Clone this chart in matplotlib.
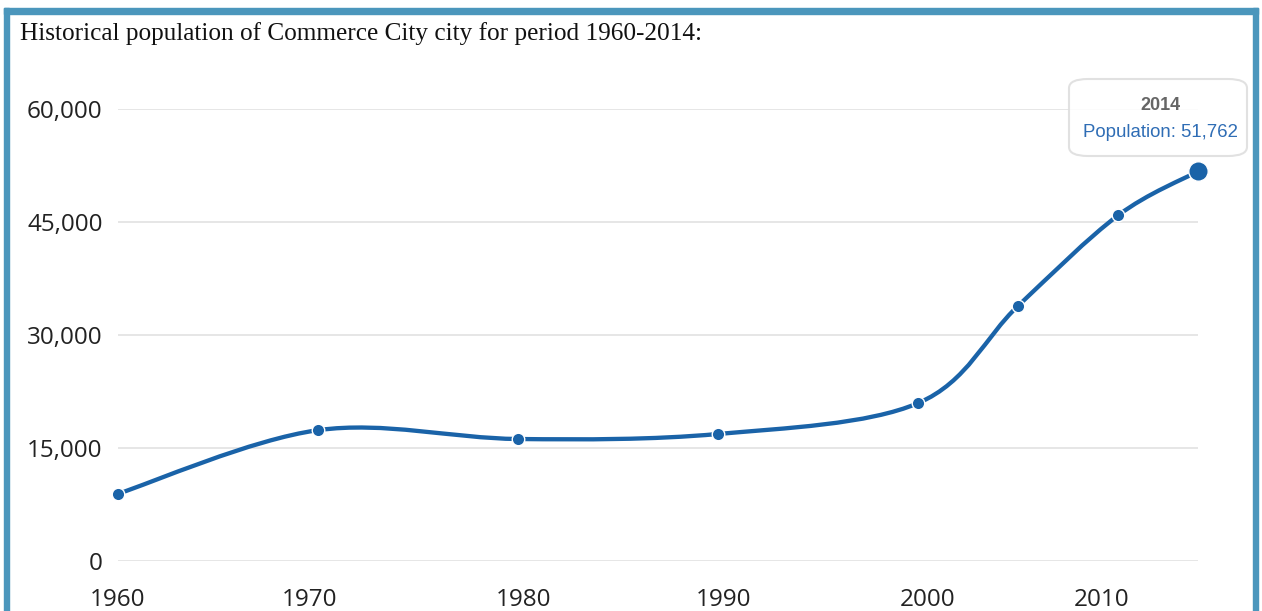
import matplotlib.pyplot as plt
import numpy as np
from matplotlib.path import Path
from matplotlib.patches import PathPatch, FancyBboxPatch, Rectangle
from matplotlib.ticker import FuncFormatter

# data
years = [1960, 1970, 1980, 1990, 2000, 2005, 2010, 2014]
population = [8970, 17407, 16234, 16900, 20991, 33900, 45913, 51762]

y_ticks = [0, 15000, 30000, 45000, 60000]
x_tick_labels = ['1960', '1970', '1980', '1990', '2000', '2010']
# the original labels sit slightly off the decade marks
x_tick_pos = [1960, 1969.6, 1980.3, 1990.3, 2000.5, 2009.2]

title = 'Historical population of Commerce City city for period 1960-2014:'
line_color = '#1a63a8'


def smooth_path(xs, ys, k=1 / 6):
    """Catmull-Rom style cubic bezier path through the points"""
    pts = np.column_stack([xs, ys]).astype(float)
    n = len(pts)
    verts = [pts[0]]
    codes = [Path.MOVETO]
    for i in range(n - 1):
        p_prev = pts[max(i - 1, 0)]
        p_next2 = pts[min(i + 2, n - 1)]
        c1 = pts[i] + (pts[i + 1] - p_prev) * k
        c2 = pts[i + 1] - (p_next2 - pts[i]) * k
        verts += [c1, c2, pts[i + 1]]
        codes += [Path.CURVE4] * 3
    return Path(verts, codes)


W, H = 1262, 611
fig = plt.figure(figsize=(W / 100, H / 100), dpi=100)

# blue frame around the figure (no bottom edge, it is cropped)
frame_color = '#4b96bc'
fig.patches.append(Rectangle((4 / W, 0), 5 / W, (H - 8) / H, transform=fig.transFigure,
                             color=frame_color, zorder=0))
fig.patches.append(Rectangle((1253 / W, 0), 5 / W, (H - 8) / H, transform=fig.transFigure,
                             color=frame_color, zorder=0))
fig.patches.append(Rectangle((4 / W, (H - 14) / H), 1254 / W, 6 / H, transform=fig.transFigure,
                             color=frame_color, zorder=0))

fig.text(20 / W, 1 - 34 / H, title, family='Liberation Serif', fontsize=18.2,
         va='center', ha='left', color='#111111')

ax = fig.add_axes([118 / W, (H - 561.3) / H, 1080 / W, 452 / H])
ax.set_xlim(1960, 2014)
ax.set_ylim(0, 60000)
for s in ax.spines.values():
    s.set_visible(False)
ax.set_yticks(y_ticks)
ax.yaxis.set_major_formatter(FuncFormatter(lambda v, p: f'{int(v):,}'))
ax.set_xticks(x_tick_pos)
ax.set_xticklabels(x_tick_labels)
ax.tick_params(axis='both', length=0, labelsize=17.5, labelcolor='#222222')
ax.tick_params(axis='y', pad=11)
ax.tick_params(axis='x', pad=19)
for lbl in ax.get_xticklabels() + ax.get_yticklabels():
    lbl.set_family('Open Sans')
ax.grid(axis='y', color='#e2e2e2', linewidth=1.2)
ax.set_axisbelow(True)

ax.add_patch(PathPatch(smooth_path(years, population), facecolor='none',
                       edgecolor=line_color, linewidth=3.1, clip_on=False, zorder=3))
ax.plot(years[:-1], population[:-1], 'o', color=line_color, markersize=9,
        markeredgecolor='white', markeredgewidth=1, clip_on=False, zorder=4)
ax.plot(years[-1:], population[-1:], 'o', color=line_color, markersize=14,
        markeredgecolor='white', markeredgewidth=1, clip_on=False, zorder=5)

# hover tooltip
tip = FancyBboxPatch((1069 / W, 1 - 156 / H), 178 / W, 77 / H,
                     boxstyle='round,pad=0,rounding_size=0.015',
                     transform=fig.transFigure, facecolor='white', alpha=0.88,
                     edgecolor='#dddddd', linewidth=1.5, zorder=6)
fig.patches.append(tip)
fig.text(1160 / W, 1 - 105.5 / H, str(years[-1]), family='Liberation Sans', fontsize=13,
         fontweight='bold', color='#666666', ha='center', va='center', zorder=7)
fig.text(1160 / W, 1 - 132.5 / H, f'Population: {population[-1]:,}', family='Liberation Sans',
         fontsize=13.4, color='#2f6db5', ha='center', va='center', zorder=7)

fig.savefig('out.png', dpi=100)
